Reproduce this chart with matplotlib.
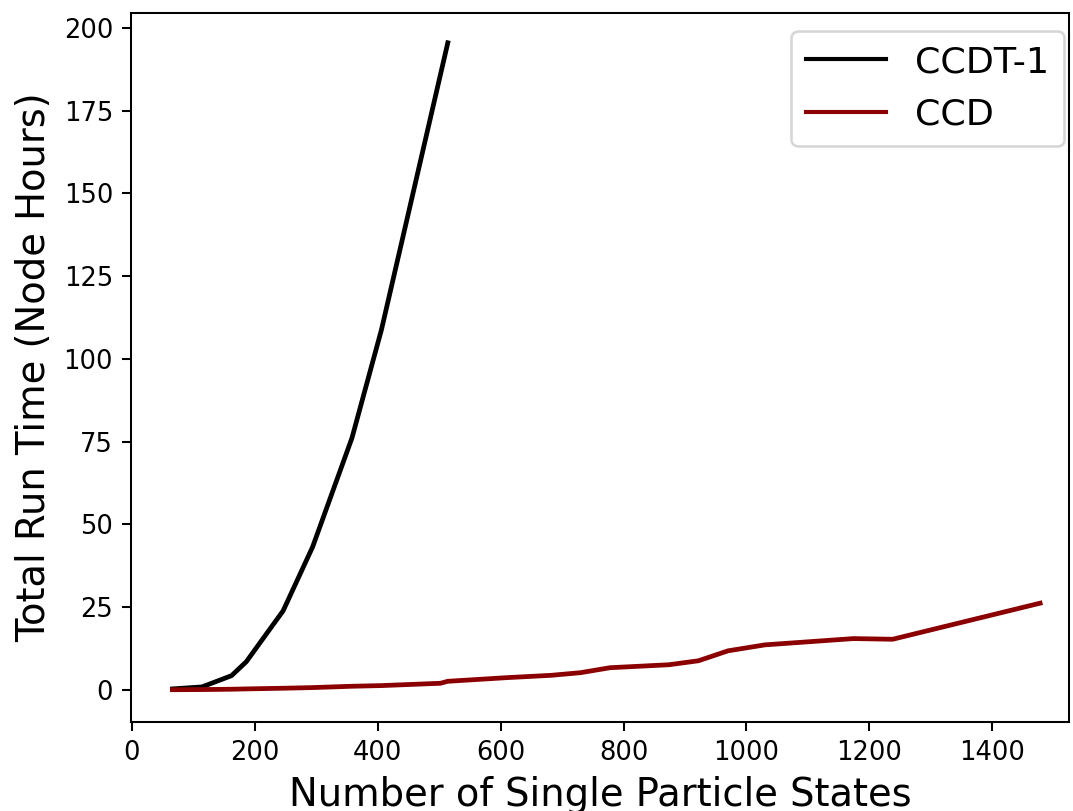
import matplotlib
matplotlib.use("Agg")
import matplotlib.pyplot as plt

# Data
ccdt_states = [66, 114, 162, 186, 246, 294, 358, 406, 514]
ccdt_hours = [0.3, 0.9, 4.3, 8.5, 23.9, 43.2, 76.1, 108.8, 195.5]

ccd_states = [66, 114, 162, 186, 246, 294, 342, 358, 406, 502, 514, 610, 682, 730,
              778, 874, 922, 970, 1030, 1174, 1238, 1478]
ccd_hours = [0.05, 0.1, 0.2, 0.3, 0.5, 0.7, 1.0, 1.1, 1.3, 2.0, 2.6, 3.7, 4.4, 5.2,
             6.7, 7.6, 8.8, 11.8, 13.6, 15.5, 15.3, 26.2]

series_labels = ["CCDT-1", "CCD"]
x_label = "Number of Single Particle States"
y_label = "Total Run Time (Node Hours)"

DPI = 185
fig = plt.figure(figsize=(1073 / DPI, 811 / DPI), dpi=DPI)
ax = fig.add_axes([131 / 1073, 1 - 722 / 811, (1069 - 131) / 1073, (722 - 13) / 811])

ax.plot(ccdt_states, ccdt_hours, color="black", lw=1.85, label=series_labels[0])
ax.plot(ccd_states, ccd_hours, color="#8b0000", lw=1.85, label=series_labels[1])

ax.set_xlim(-1.6, 1525)
ax.set_ylim(-9.7, 204.5)
ax.set_xticks([0, 200, 400, 600, 800, 1000, 1200, 1400])
ax.set_yticks([0, 25, 50, 75, 100, 125, 150, 175, 200])
ax.tick_params(labelsize=10)

ax.set_xlabel(x_label, fontsize=15)
ax.set_ylabel(y_label, fontsize=15)

leg = ax.legend(loc="upper right", fontsize=14.2, handlelength=2.2,
                bbox_to_anchor=(1064 / 1073, 1 - 30.5 / 811),
                bbox_transform=fig.transFigure, borderaxespad=0)
for h in leg.get_lines():
    h.set_linewidth(1.6)

fig.savefig("out.png", dpi=DPI)
